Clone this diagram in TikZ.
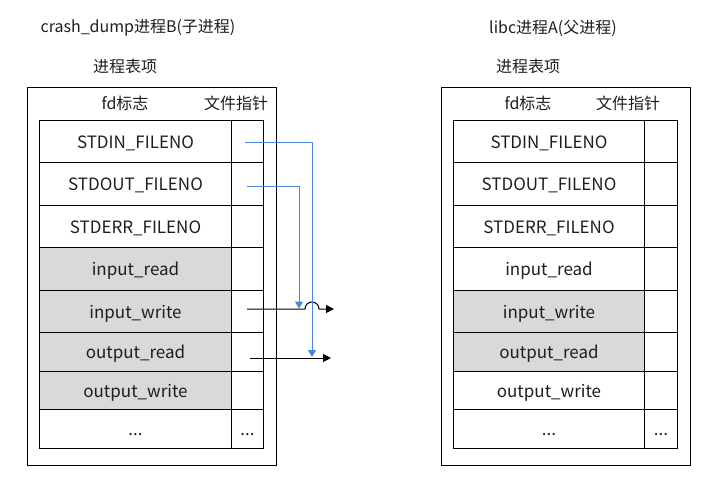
\documentclass[tikz,border=0pt]{standalone}
\usepackage{fontspec}
\setmainfont{Noto Sans CJK SC}
\usetikzlibrary{arrows.meta}
\definecolor{cellgray}{RGB}{217,217,217}
\definecolor{lineblue}{RGB}{74,134,224}
\definecolor{txt}{RGB}{30,30,30}
\begin{document}
\begin{tikzpicture}[x=1pt,y=-1pt,
  every node/.style={font=\fontsize{17}{20}\selectfont, text=txt},
  outerbox/.style={draw, line width=1pt, inner sep=0pt, anchor=north west},
  cell/.style={draw, line width=1pt, inner sep=0pt, anchor=north west, minimum height=#1,
               text height=13.4pt, text depth=0pt},
  fdcell/.style={cell=#1, minimum width=192pt},
  fdgray/.style={fdcell=#1, fill=cellgray},
  ptrcell/.style={cell=#1, minimum width=32pt},
  label/.style={anchor=center, inner sep=0pt, font=\fontsize{16}{19}\selectfont},
  bluearrow/.style={draw=lineblue, line width=1pt, -{Triangle[length=7pt,width=8pt]}},
  blackarrow/.style={draw=black, line width=1pt, -{Triangle[length=8pt,width=8pt]}}
]
\useasboundingbox (0,0) rectangle (721,480);

% ---------- left process B ----------
\node[label] (titleB) at (138,28) {crash\_dump进程B(子进程)};
\node[label] (tabB) at (125,66) {进程表项};
\node[outerbox, minimum width=249pt, minimum height=378pt] (boxB) at (27,87) {};
\node[label] (fdB) at (125,103) {fd标志};
\node[label] (ptrB) at (236,103) {文件指针};

\node[fdcell=42pt] (b1) at (39,120) {STDIN\_FILENO};
\node[fdcell=43pt] (b2) at (39,162) {STDOUT\_FILENO};
\node[fdcell=42pt] (b3) at (39,205) {STDERR\_FILENO};
\node[fdgray=43pt] (b4) at (39,247) {input\_read};
\node[fdgray=42pt] (b5) at (39,290) {input\_write};
\node[fdgray=39pt] (b6) at (39,332) {output\_read};
\node[fdgray=38pt] (b7) at (39,371) {output\_write};
\node[fdcell=39pt] (b8) at (39,409) {...};

\node[ptrcell=42pt] (pb1) at (231,120) {};
\node[ptrcell=43pt] (pb2) at (231,162) {};
\node[ptrcell=42pt] (pb3) at (231,205) {};
\node[ptrcell=43pt] (pb4) at (231,247) {};
\node[ptrcell=42pt] (pb5) at (231,290) {};
\node[ptrcell=39pt] (pb6) at (231,332) {};
\node[ptrcell=38pt] (pb7) at (231,371) {};
\node[ptrcell=39pt] (pb8) at (231,409) {...};

% ---------- right process A ----------
\node[label] (titleA) at (553,28) {libc进程A(父进程)};
\node[label] (tabA) at (528,66) {进程表项};
\node[outerbox, minimum width=249pt, minimum height=378pt] (boxA) at (441,87) {};
\node[label] (fdA) at (528,103) {fd标志};
\node[label] (ptrA) at (628,103) {文件指针};

\node[fdcell=42pt, minimum width=191pt] (a1) at (453,120) {STDIN\_FILENO};
\node[fdcell=43pt, minimum width=191pt] (a2) at (453,162) {STDOUT\_FILENO};
\node[fdcell=42pt, minimum width=191pt] (a3) at (453,205) {STDERR\_FILENO};
\node[fdcell=43pt, minimum width=191pt] (a4) at (453,247) {input\_read};
\node[fdgray=42pt, minimum width=191pt] (a5) at (453,290) {input\_write};
\node[fdgray=39pt, minimum width=191pt] (a6) at (453,332) {output\_read};
\node[fdcell=38pt, minimum width=191pt] (a7) at (453,371) {output\_write};
\node[fdcell=39pt, minimum width=191pt] (a8) at (453,409) {...};

\node[ptrcell=42pt, minimum width=33pt] (pa1) at (644,120) {};
\node[ptrcell=43pt, minimum width=33pt] (pa2) at (644,162) {};
\node[ptrcell=42pt, minimum width=33pt] (pa3) at (644,205) {};
\node[ptrcell=43pt, minimum width=33pt] (pa4) at (644,247) {};
\node[ptrcell=42pt, minimum width=33pt] (pa5) at (644,290) {};
\node[ptrcell=39pt, minimum width=33pt] (pa6) at (644,332) {};
\node[ptrcell=38pt, minimum width=33pt] (pa7) at (644,371) {};
\node[ptrcell=39pt, minimum width=33pt] (pa8) at (644,409) {...};

% ---------- connectors ----------
\coordinate (s1) at (245,142);
\coordinate (s2) at (247,186);
\coordinate (k1) at (312,142);
\coordinate (k2) at (299,186);
\coordinate (e1) at (312,357);
\coordinate (e2) at (299,308.5);

\coordinate (w0) at (247,309);
\coordinate (h0) at (305,309);
\coordinate (w1) at (334,309);
\coordinate (r0) at (250,358);
\coordinate (r1) at (331,358);

\draw[blackarrow] (w0) -- (h0) arc[start angle=180, end angle=0, radius=7pt] -- (w1);
\draw[blackarrow] (r0) -- (r1);
\draw[bluearrow] (s1) -- (k1) -- (e1);
\draw[bluearrow] (s2) -- (k2) -- (e2);
\end{tikzpicture}
\end{document}
